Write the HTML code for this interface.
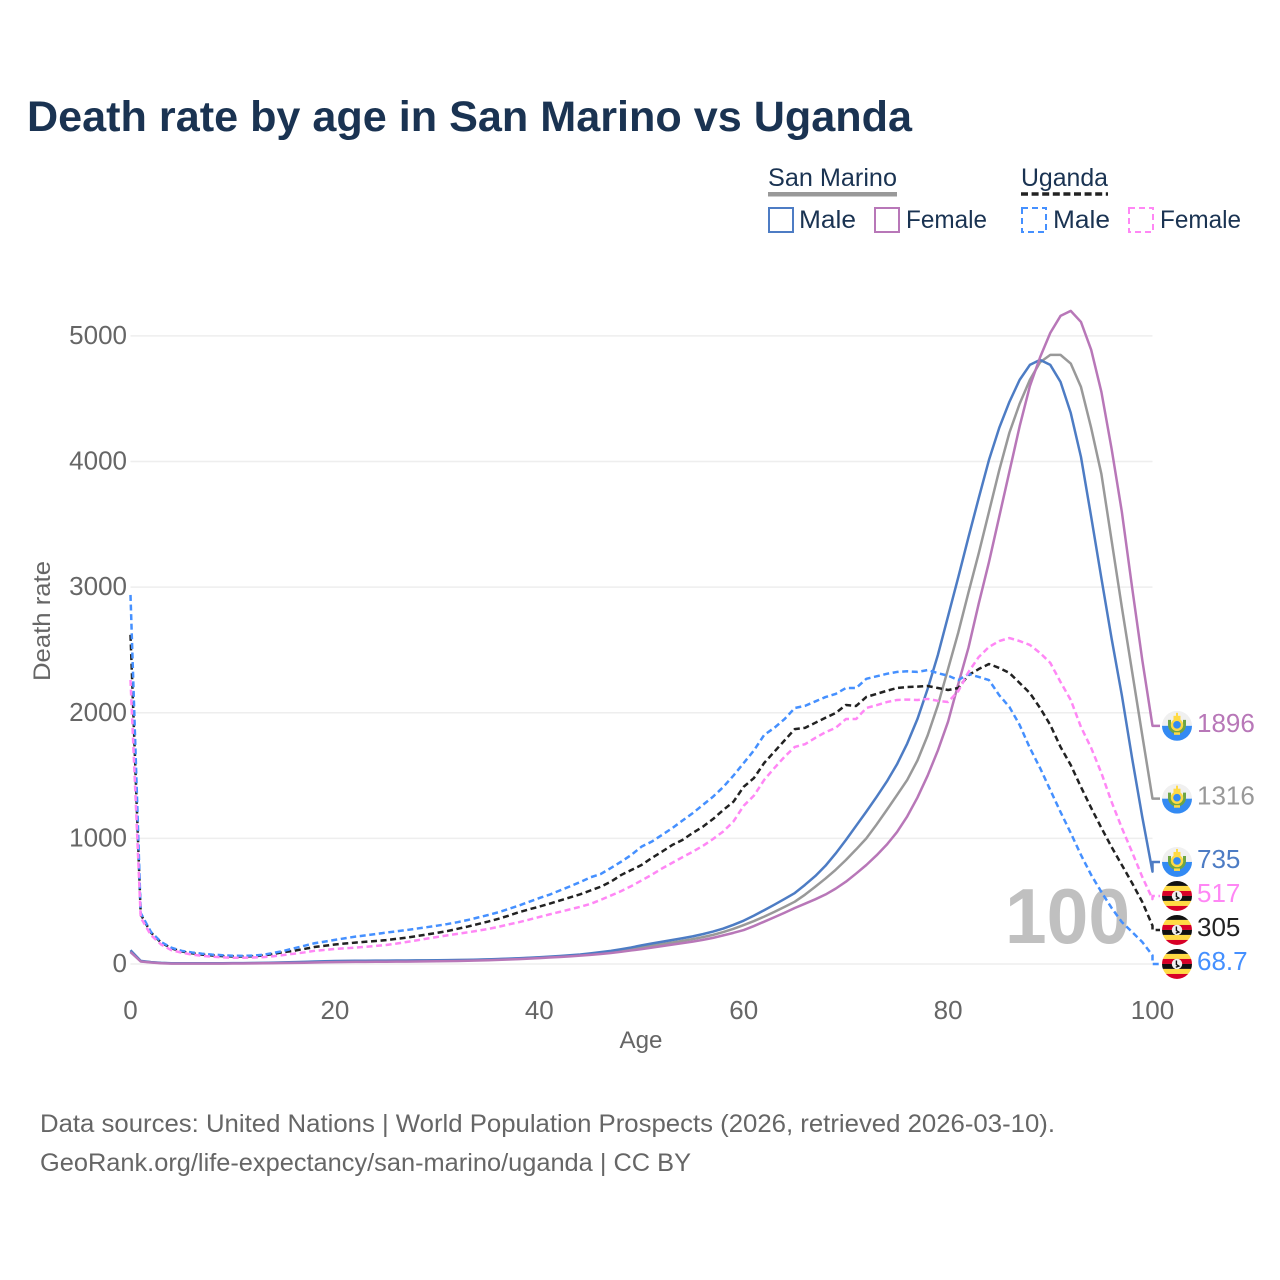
<!DOCTYPE html>
<html lang="en">
<head>
<meta charset="utf-8">
<title>Death rate by age in San Marino vs Uganda</title>
<style>
html,body{margin:0;padding:0;background:#fff}
svg{display:block}
text{font-family:"Liberation Sans",sans-serif}
</style>
</head>
<body>
<svg id="chart" xmlns="http://www.w3.org/2000/svg" width="1280" height="1280" viewBox="0 0 1280 1280">
  <text x="27" y="131" font-size="43" font-weight="700" fill="#1a3352" textLength="885" lengthAdjust="spacingAndGlyphs">Death rate by age in San Marino vs Uganda</text>

  <g font-size="25" fill="#1a3352">
    <text x="768" y="186" textLength="129" lengthAdjust="spacingAndGlyphs">San Marino</text>
    <rect x="768" y="192" width="129" height="4.5" fill="#999999"/>
    <text x="1021" y="186" textLength="87" lengthAdjust="spacingAndGlyphs">Uganda</text>
    <line x1="1021" y1="194" x2="1108" y2="194" stroke="#222222" stroke-width="3.5" stroke-dasharray="7 3.6"/>
    <rect x="769" y="208" width="24" height="24" fill="none" stroke="#4d7cc4" stroke-width="2"/>
    <text x="799" y="228" textLength="57" lengthAdjust="spacingAndGlyphs">Male</text>
    <rect x="875" y="208" width="24" height="24" fill="none" stroke="#b877b8" stroke-width="2"/>
    <text x="906" y="228" textLength="81" lengthAdjust="spacingAndGlyphs">Female</text>
    <rect x="1022" y="208" width="24" height="24" fill="none" stroke="#4590ff" stroke-width="2" stroke-dasharray="6 4"/>
    <text x="1053" y="228" textLength="57" lengthAdjust="spacingAndGlyphs">Male</text>
    <rect x="1129" y="208" width="24" height="24" fill="none" stroke="#ff87f5" stroke-width="2" stroke-dasharray="6 4"/>
    <text x="1160" y="228" textLength="81" lengthAdjust="spacingAndGlyphs">Female</text>
  </g>

  <text transform="translate(50,621) rotate(-90)" text-anchor="middle" font-size="24" fill="#666666" textLength="120" lengthAdjust="spacingAndGlyphs">Death rate</text>
  <text x="641" y="1048" text-anchor="middle" font-size="24" fill="#666666" textLength="43" lengthAdjust="spacingAndGlyphs">Age</text>

  <g id="grid"></g>
  <g id="ticks"></g>

  <text x="1005" y="943" font-size="78" font-weight="700" fill="#c0c0c0" textLength="125" lengthAdjust="spacingAndGlyphs">100</text>

  <g id="series"></g>
  <g id="endlabels"></g>

  <text x="40" y="1132" font-size="25" fill="#666666" textLength="1015" lengthAdjust="spacingAndGlyphs">Data sources: United Nations | World Population Prospects (2026, retrieved 2026-03-10).</text>
  <text x="40" y="1171" font-size="25" fill="#666666" textLength="651" lengthAdjust="spacingAndGlyphs">GeoRank.org/life-expectancy/san-marino/uganda | CC BY</text>
</svg>
<script>
const xTicks = [0, 20, 40, 60, 80, 100];
const yTicks = [0, 1000, 2000, 3000, 4000, 5000];

const sanMarinoMale = [110,25,15,9,6,6,6,6,6,6,
7,7,8,9,11,13,15,17,20,22,
24,25,26,26,27,27,28,28,29,29,
30,31,32,33,35,37,40,43,46,50,
54,59,64,70,76,85,95,105,118,132,
148,163,177,191,205,220,238,258,282,312,
345,385,428,472,518,565,630,700,782,880,
987,1100,1213,1330,1452,1590,1755,1950,2190,2460,
2770,3080,3400,3710,4013,4267,4475,4650,4769,4809,
4769,4634,4387,4037,3560,3070,2590,2140,1640,1170,735];

const sanMarinoBoth = [100,22,14,8,5,5,5,5,5,5,
6,6,7,8,9,11,13,15,17,19,
21,22,23,24,25,25,26,26,27,28,
29,30,31,32,34,36,38,41,44,48,
52,56,61,66,72,79,88,97,108,120,
133,145,158,171,184,198,214,232,254,280,
310,342,377,415,455,496,552,615,680,750,
828,912,1000,1110,1226,1345,1465,1620,1820,2060,
2350,2640,2960,3270,3600,3930,4230,4460,4650,4790,
4849,4849,4780,4594,4267,3900,3370,2840,2330,1820,1316];

const sanMarinoFemale = [95,20,12,6,3,3,3,3,3,3,
4,4,5,6,7,8,9,10,12,14,
15,16,17,17,18,18,19,19,20,21,
22,23,24,26,28,30,33,36,39,43,
47,52,56,61,67,73,80,88,97,108,
118,130,142,154,166,178,192,208,228,248,
270,302,337,372,408,446,480,515,553,600,
655,720,788,865,950,1050,1175,1325,1500,1700,
1930,2230,2520,2870,3200,3560,3920,4280,4600,4830,
5024,5159,5199,5111,4889,4554,4100,3600,3000,2420,1896];

const ugandaMale = [2938,405,255,175,130,105,92,82,75,70,
66,65,67,74,88,105,125,145,165,178,
192,205,218,228,238,250,260,270,282,293,
305,318,333,350,370,390,412,438,465,495,
525,552,585,618,652,690,716,764,814,868,
934,974,1027,1081,1141,1200,1266,1332,1409,1500,
1600,1700,1823,1880,1950,2038,2055,2090,2125,2150,
2197,2197,2270,2290,2310,2325,2330,2325,2340,2315,
2295,2260,2309,2285,2260,2140,2046,1903,1720,1560,
1385,1210,1043,868,709,573,446,334,255,175,68.7];

const ugandaBoth = [2620,395,250,170,125,100,85,75,68,63,
60,60,62,68,80,95,105,120,135,145,
155,163,170,177,183,190,200,210,222,235,
248,262,280,298,318,338,360,385,412,435,
457,480,505,530,555,585,615,655,708,748,
788,844,894,947,987,1043,1093,1154,1226,1292,
1411,1480,1600,1690,1780,1870,1880,1920,1960,1998,
2062,2054,2126,2150,2175,2197,2205,2208,2213,2197,
2181,2197,2300,2348,2388,2357,2317,2237,2157,2038,
1903,1728,1584,1409,1242,1083,931,788,645,494,305];

const ugandaFemale = [2261,370,230,155,110,90,75,65,58,53,
50,50,52,55,62,72,82,92,105,112,
120,125,130,137,144,151,162,175,188,202,
215,228,240,252,265,279,296,315,333,353,
374,395,415,435,455,478,510,545,580,620,
665,710,760,805,850,893,940,995,1055,1135,
1260,1340,1465,1560,1650,1728,1750,1800,1845,1880,
1950,1950,2038,2060,2085,2102,2105,2102,2110,2095,
2086,2173,2325,2444,2524,2571,2595,2571,2540,2476,
2397,2245,2102,1887,1720,1520,1290,1083,892,693,517];

const NS = 'http://www.w3.org/2000/svg';
function xScale(age) { return 130.5 + age * 10.22; }
function yScale(v) { return 964 - v * 0.12562; }

const gridLayer = document.getElementById('grid');
const tickLayer = document.getElementById('ticks');
const seriesLayer = document.getElementById('series');
const labelLayer = document.getElementById('endlabels');

yTicks.forEach(function (t) {
  const g = document.createElementNS(NS, 'line');
  
  
  g.setAttribute('x1', xScale(0));
  g.setAttribute('x2', xScale(100));
  g.setAttribute('y1', yScale(t));
  g.setAttribute('y2', yScale(t));
  g.setAttribute('stroke', '#eeeeee');
  g.setAttribute('stroke-width', '1.5');
  gridLayer.appendChild(g);
  const l = document.createElementNS(NS, 'text');
  
  
  l.setAttribute('x', 127);
  l.setAttribute('y', yScale(t) + 8);
  l.setAttribute('text-anchor', 'end');
  l.setAttribute('font-size', '26');
  l.setAttribute('fill', '#666666');
  l.textContent = t;
  tickLayer.appendChild(l);
});

xTicks.forEach(function (t) {
  const l = document.createElementNS(NS, 'text');
  
  
  l.setAttribute('x', xScale(t));
  l.setAttribute('y', 1019);
  l.setAttribute('text-anchor', 'middle');
  l.setAttribute('font-size', '26');
  l.setAttribute('fill', '#666666');
  l.textContent = t;
  tickLayer.appendChild(l);
});

const seriesDefs = [
  { key: 'san-marino-both', values: sanMarinoBoth, color: '#999999', dash: '', flag: 'sm', text: '1316' },
  { key: 'san-marino-male', values: sanMarinoMale, color: '#4d7cc4', dash: '', flag: 'sm', text: '735' },
  { key: 'san-marino-female', values: sanMarinoFemale, color: '#b877b8', dash: '', flag: 'sm', text: '1896' },
  { key: 'uganda-both', values: ugandaBoth, color: '#222222', dash: '6 3.6', flag: 'ug', text: '305' },
  { key: 'uganda-male', values: ugandaMale, color: '#4590ff', dash: '6 3.6', flag: 'ug', text: '68.7' },
  { key: 'uganda-female', values: ugandaFemale, color: '#ff87f5', dash: '6 3.6', flag: 'ug', text: '517' }
];

/* Spread end labels apart: overlapping labels form a cluster centred on its mean. */
function dodge(items, gap) {
  const sorted = items.slice().sort(function (a, b) { return a.raw - b.raw; });
  let clusters = sorted.map(function (it) { return { members: [it], mean: it.raw }; });
  let merged = true;
  while (merged) {
    merged = false;
    for (let i = 0; i < clusters.length - 1; i++) {
      const a = clusters[i], b = clusters[i + 1];
      const aBottom = a.mean + (a.members.length - 1) * gap / 2;
      const bTop = b.mean - (b.members.length - 1) * gap / 2;
      if (bTop - aBottom < gap) {
        const m = a.members.concat(b.members);
        const sum = m.reduce(function (s, it) { return s + it.raw; }, 0);
        clusters.splice(i, 2, { members: m, mean: sum / m.length });
        merged = true;
        break;
      }
    }
  }
  clusters.forEach(function (c) {
    c.members.forEach(function (it, i) {
      it.labelY = c.mean + (i - (c.members.length - 1) / 2) * gap;
    });
  });
}

const ends = seriesDefs.map(function (d) {
  return { def: d, raw: yScale(d.values[100]), labelY: 0 };
});
dodge(ends, 34);

function svgEl(parent, tag, attrs) {
  const e = document.createElementNS(NS, tag);
  Object.keys(attrs).forEach(function (k) { e.setAttribute(k, attrs[k]); });
  parent.appendChild(e);
  return e;
}

function drawFlag(group, kind, cx, cy) {
  const id = 'clip-' + cy.toFixed(0);
  const cp = svgEl(group, 'clipPath', { id: id });
  svgEl(cp, 'circle', { cx: cx, cy: cy, r: 15 });
  const inner = svgEl(group, 'g', { 'clip-path': 'url(#' + id + ')' });
  if (kind === 'sm') {
    svgEl(inner, 'rect', { x: cx - 15, y: cy - 15, width: 30, height: 15, fill: '#f0f0f0' });
    svgEl(inner, 'rect', { x: cx - 15, y: cy, width: 30, height: 15, fill: '#338af3' });
    svgEl(inner, 'path', { d: 'M' + (cx - 7.5) + ' ' + (cy - 6) + 'v5a7.5 7.5 0 0 0 15 0v-5', fill: 'none', stroke: '#6da544', 'stroke-width': 3 });
    svgEl(inner, 'circle', { cx: cx, cy: cy - 1, r: 5, fill: '#338af3', stroke: '#ffda44', 'stroke-width': 2.4 });
    svgEl(inner, 'rect', { x: cx - 3.5, y: cy - 10, width: 7, height: 4, fill: '#ffda44' });
    svgEl(inner, 'rect', { x: cx - 1, y: cy - 13, width: 2, height: 4, fill: '#ffda44' });
    svgEl(inner, 'rect', { x: cx - 3, y: cy + 6.5, width: 6, height: 2.5, fill: '#ffda44' });
  } else {
    const colors = ['#111111', '#ffda44', '#d80027', '#111111', '#ffda44', '#d80027'];
    colors.forEach(function (c, i) {
      svgEl(inner, 'rect', { x: cx - 15, y: cy - 15 + i * 5, width: 30, height: 5, fill: c });
    });
    svgEl(inner, 'circle', { cx: cx, cy: cy, r: 5.2, fill: '#f0f0f0' });
    svgEl(inner, 'path', { d: 'M' + (cx - 0.6) + ' ' + (cy - 3.5) + 'l0 4l2.4 1.6l-3 1.2', fill: 'none', stroke: '#111111', 'stroke-width': 1.4 });
  }
}

ends.forEach(function (e) {
  const d = e.def;
  let dPath = '';
  d.values.forEach(function (v, age) {
    dPath += (age === 0 ? 'M' : 'L') + xScale(age).toFixed(2) + ' ' + yScale(v).toFixed(2);
  });
  dPath += 'L' + xScale(100).toFixed(2) + ' ' + e.labelY.toFixed(2) + 'L1160 ' + e.labelY.toFixed(2);
  const p = document.createElementNS(NS, 'path');
  
  
  p.setAttribute('d', dPath);
  p.setAttribute('fill', 'none');
  p.setAttribute('stroke', d.color);
  p.setAttribute('stroke-width', '2.5');
  p.setAttribute('stroke-linejoin', 'round');
  if (d.dash) p.setAttribute('stroke-dasharray', d.dash);
  seriesLayer.appendChild(p);

  const g = document.createElementNS(NS, 'g');
  
  
  labelLayer.appendChild(g);
  drawFlag(g, d.flag, 1177, e.labelY);

  const t = document.createElementNS(NS, 'text');
  
  
  t.setAttribute('x', 1197);
  t.setAttribute('y', e.labelY + 6);
  t.setAttribute('font-size', '26');
  t.setAttribute('fill', d.color);
  t.textContent = d.text;
  labelLayer.appendChild(t);
});
</script>
</body>
</html>
